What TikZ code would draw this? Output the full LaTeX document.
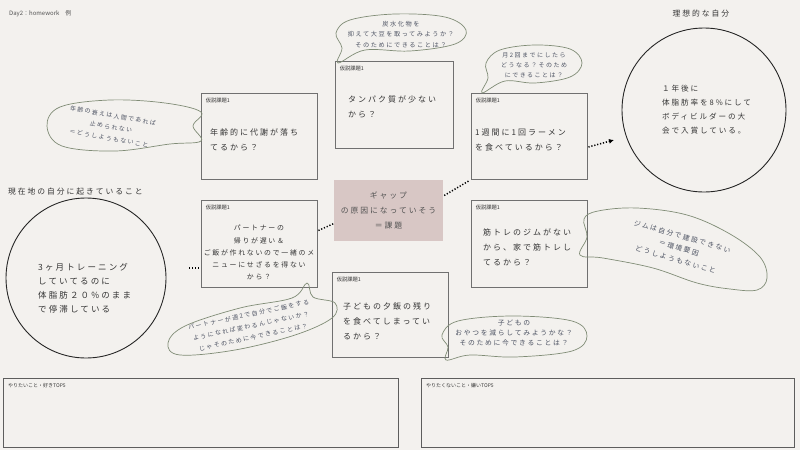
\documentclass[tikz,border=0pt]{standalone}
\usepackage{fontspec}
\newfontfamily\jp{Noto Sans CJK JP}
\newfontfamily\jpw[LetterSpace=25]{Noto Sans CJK JP}
\usetikzlibrary{arrows.meta,calc}
\definecolor{bg}{HTML}{F3F1EE}
\definecolor{ink}{HTML}{353535}
\definecolor{boxline}{HTML}{707070}
\definecolor{bubline}{HTML}{808C76}
\definecolor{bubtext}{HTML}{4C5262}
\definecolor{gapfill}{HTML}{D8C7C5}
\begin{document}
\begin{tikzpicture}[x=1pt,y=-1pt,
  hbox/.style={draw=boxline, line width=0.9pt, rectangle, inner sep=0pt},
  tag/.style={font=\jp\fontsize{5.3}{6}\selectfont, text=ink, anchor=west, inner sep=0pt},
  htext/.style={font=\jpw\fontsize{8}{15}\selectfont, text=ink, align=left, anchor=north west, inner sep=0pt},
  btext/.style={font=\jpw\fontsize{6.2}{10.5}\selectfont, text=bubtext, align=center, inner sep=0pt},
  bubble/.style={draw=bubline, line width=0.7pt, smooth cycle, tension=0.6},
  link/.style={draw=black, line width=1.5pt, dash pattern=on 1.2pt off 1.8pt},
  heading/.style={font=\jpw\fontsize{7.8}{10}\selectfont, text=ink, inner sep=0pt},
  listbox/.style={draw=ink!80, line width=0.8pt, rectangle, anchor=north west, inner sep=0pt},
]
\fill[bg] (0,0) rectangle (800,450);
\useasboundingbox (0,0) rectangle (800,450);

% titles
\node[font=\jp\fontsize{6}{7}\selectfont, text=ink!85, anchor=west, inner sep=0pt] (title) at (9,14) {Day2：homework　例};
\node[heading] (idealtitle) at (701,14) {理想的な自分};
\node[heading, anchor=west] (nowtitle) at (8,192) {現在地の自分に起きていること};

% circles
\node[circle, draw=black!85, line width=0.9pt, minimum size=164pt, inner sep=0pt] (ideal) at (704,110) {};
\node[circle, draw=black!85, line width=0.9pt, minimum size=160pt, inner sep=0pt] (now) at (86,278) {};
\node[font=\jpw\fontsize{7.6}{14}\selectfont, text=ink, align=left, anchor=north west, inner sep=0pt] (idealtext) at (662,85) {１年後に\\体脂肪率を8\%にして\\ボディビルダーの大\\会で入賞している。};
\node[font=\jpw\fontsize{8.5}{14}\selectfont, text=ink, align=left, anchor=north west, inner sep=0pt] (nowtext) at (38,263) {3ヶ月トレーニング\\していてるのに\\体脂肪２０\%のまま\\で停滞している};

% hypothesis boxes
\node[hbox, minimum width=116pt, minimum height=86pt] (boxA) at (259,136) {};
\node[hbox, minimum width=118pt, minimum height=87pt] (boxB) at (394,104.5) {};
\node[hbox, minimum width=116pt, minimum height=86pt] (boxC) at (529,136) {};
\node[hbox, minimum width=116pt, minimum height=87pt] (boxD) at (259,243.5) {};
\node[hbox, minimum width=116pt, minimum height=87pt] (boxE) at (529,243.5) {};
\node[hbox, minimum width=116pt, minimum height=85pt] (boxF) at (390,314.5) {};
\node[rectangle, fill=gapfill, minimum width=109pt, minimum height=61pt, inner sep=0pt] (gap) at (388.5,210.5) {};

\foreach \b in {boxA,boxB,boxC,boxD,boxE,boxF}
  \node[tag] (tag\b) at ($(\b.north west)+(5,8)$) {仮説課題1};

\node[htext] (textA) at (210,129) {年齢的に代謝が落ち\\てるから？};
\node[htext] (textB) at (348,96) {タンパク質が少ない\\から？};
\node[htext] (textC) at (475,129) {1週間に1回ラーメン\\を食べているから？};
\node[font=\jpw\fontsize{6.9}{12.3}\selectfont, text=ink, align=center, anchor=north, inner sep=0pt] (textD) at (259,225) {パートナーの\\帰りが遅い＆\\ご飯が作れないので一緒のメ\\ニューにせざるを得ない\\から？};
\node[htext] (textE) at (483,229) {筋トレのジムがない\\から、家で筋トレし\\てるから？};
\node[htext] (textF) at (343,302) {子どもの夕飯の残り\\を食べてしまってい\\るから？};
\node[font=\jpw\fontsize{7.8}{15}\selectfont, text=ink!85, align=center, inner sep=0pt] (gaptext) at (388.5,210.5) {ギャップ\\の原因になっていそう\\＝課題};

% dotted links
\coordinate (c1) at (189,268);
\coordinate (arr) at (614,140);
\draw[link] (c1) -- (c1 -| boxD.west);
\draw[link] ($(boxD.east)+(1,-13)$) -- ($(gap.west)+(0,13)$);
\draw[link] ($(gap.east)+(1,-15)$) -- ($(boxC.south west)+(-1,1)$);
\draw[link, -{Latex[length=5pt,width=5pt]}] ($(boxC.east)+(1,11)$) -- (arr);

% speech bubbles
\draw[bubble] plot coordinates {(338,63) (342,48) (336,33) (350,20) (395,14) (445,17) (466,30) (455,44) (410,51) (365,50)};
\node[btext] (b1) at (401,34.5) {炭水化物を\\抑えて大豆を取ってみようか？\\そのためにできることは？};

\draw[bubble] plot coordinates {(482,93) (488,78) (486,63) (500,50) (535,45) (570,49) (582,63) (570,77) (535,83) (505,81)};
\node[btext, font=\jpw\fontsize{6}{10}\selectfont] (b2) at (534,65) {月2回までにしたら\\どうなる？そのため\\にできることは？};

\draw[bubble] plot coordinates {(201,112) (193,126) (201,141) (170,144) (115,151) (62,146) (47,126) (60,107) (110,100) (165,103)};
\node[btext, font=\jpw\fontsize{5.9}{11.5}\selectfont, rotate=-10] (b3) at (111,127) {年齢の衰えは人間であれば\\止められない\\＝どうしようもないこと};

\draw[bubble] plot coordinates {(584,219) (598,211) (637,208) (687,215) (730,234) (760,257) (767,278) (757,290) (730,289) (697,283) (653,268) (603,258) (580,255) (587,237)};
\node[btext, font=\jpw\fontsize{6.8}{12}\selectfont, rotate=-16] (b4) at (679,248) {ジムは自分で建設できない\\＝環境要因\\どうしようもないこと};

\draw[bubble] plot coordinates {(307,283) (313,297) (335,303) (332,318) (295,335) (235,350) (180,355) (168,343) (185,326) (240,308) (292,298)};
\node[btext, font=\jpw\fontsize{6}{11.5}\selectfont, rotate=12] (b5) at (251,326) {パートナーが週2で自分でご飯をする\\ようになれば変わるんじゃないか？\\じゃそのために今できることは？};

\draw[bubble] plot coordinates {(446,360) (448,347) (442,335) (458,321) (513,316) (572,321) (587,336) (572,351) (515,357) (470,355)};
\node[btext, font=\jpw\fontsize{6.8}{10.3}\selectfont] (b6) at (514,333) {子どもの\\おやつを減らしてみようかな？\\そのために今できることは？};

% bottom lists
\node[listbox, minimum width=395pt, minimum height=69pt] (like) at (3,378) {};
\node[listbox, minimum width=373pt, minimum height=69pt] (dislike) at (421,378) {};
\node[tag, font=\jp\fontsize{5}{6}\selectfont] (liketag) at ($(like.north west)+(5,8)$) {やりたいこと・好きTOP5};
\node[tag, font=\jp\fontsize{5}{6}\selectfont] (disliketag) at ($(dislike.north west)+(5,8)$) {やりたくないこと・嫌いTOP5};
\end{tikzpicture}
\end{document}
